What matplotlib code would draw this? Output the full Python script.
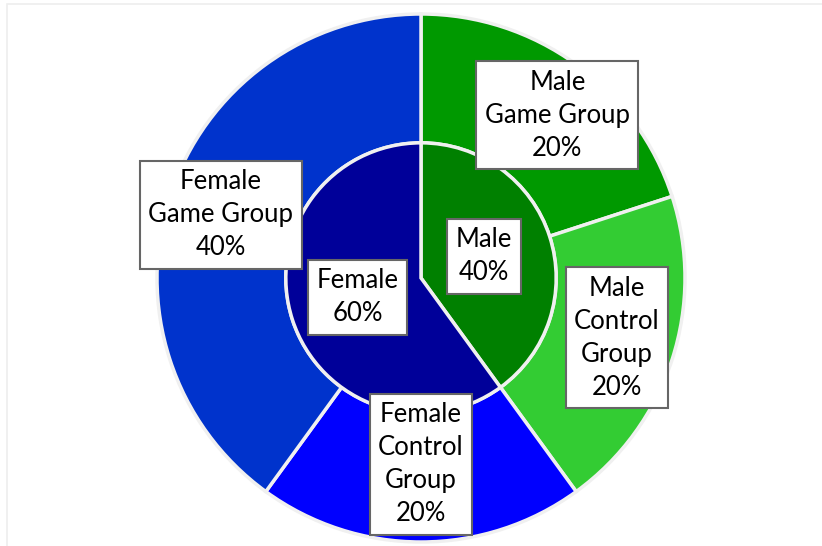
import matplotlib
matplotlib.use("Agg")
import matplotlib.pyplot as plt
import numpy as np
from matplotlib.patches import Rectangle

# Data
inner_labels = ["Male", "Female"]
inner_values = [40, 60]
inner_colors = ["#008000", "#000099"]

outer_labels = ["Male\nGame Group", "Male\nControl\nGroup", "Female\nControl\nGroup", "Female\nGame Group"]
outer_values = [20, 20, 20, 40]
outer_colors = ["#009900", "#33CC33", "#0000FF", "#0033CC"]

W, H = 822, 546
fig = plt.figure(figsize=(W / 100, H / 100), dpi=100)
fig.patch.set_facecolor("white")

# faint frame
fig.add_artist(Rectangle((6.5 / W, -0.1), 1.2, (H - 3.5) / H + 0.1, transform=fig.transFigure,
                         fill=False, edgecolor="#eeeeee", linewidth=1.2))

cx, cy, R = 421, 278, 264
m = 1.02
ax = fig.add_axes([(cx - R * m) / W, (H - cy - R * m) / H, 2 * R * m / W, 2 * R * m / H])
ax.axis("off")

r_in = 0.512
edge = "#f0f0f0"

outer_w, _ = ax.pie(outer_values, radius=1.0, colors=outer_colors, startangle=90, counterclock=False,
                    wedgeprops=dict(width=1 - r_in, edgecolor=edge, linewidth=2.5))
inner_w, _ = ax.pie(inner_values, radius=r_in, colors=inner_colors, startangle=90, counterclock=False,
                    wedgeprops=dict(edgecolor=edge, linewidth=2.5))
ax.set_xlim(-m, m)
ax.set_ylim(-m, m)
ax.set_aspect("equal")

font = ["Lato", "DejaVu Sans"]
box = dict(boxstyle="square,pad=0.33", facecolor="white", edgecolor="#666666", linewidth=1.5)

def place(wedges, labels, values, dists, dang):
    for w, lab, v, d, da in zip(wedges, labels, values, dists, dang):
        ang = np.deg2rad((w.theta1 + w.theta2) / 2 + da)
        ax.text(d * np.cos(ang), d * np.sin(ang), f"{lab}\n{v}%", ha="center", va="center",
                fontsize=18.5, family=font, color="black", linespacing=1.4, bbox=box)

place(outer_w, outer_labels, outer_values, [0.804, 0.776, 0.705, 0.795], [-4, 1, 0, 0.5])
place(inner_w, inner_labels, inner_values, [0.253, 0.25], [1, -1])

fig.savefig("out.png", dpi=100, facecolor="white")
